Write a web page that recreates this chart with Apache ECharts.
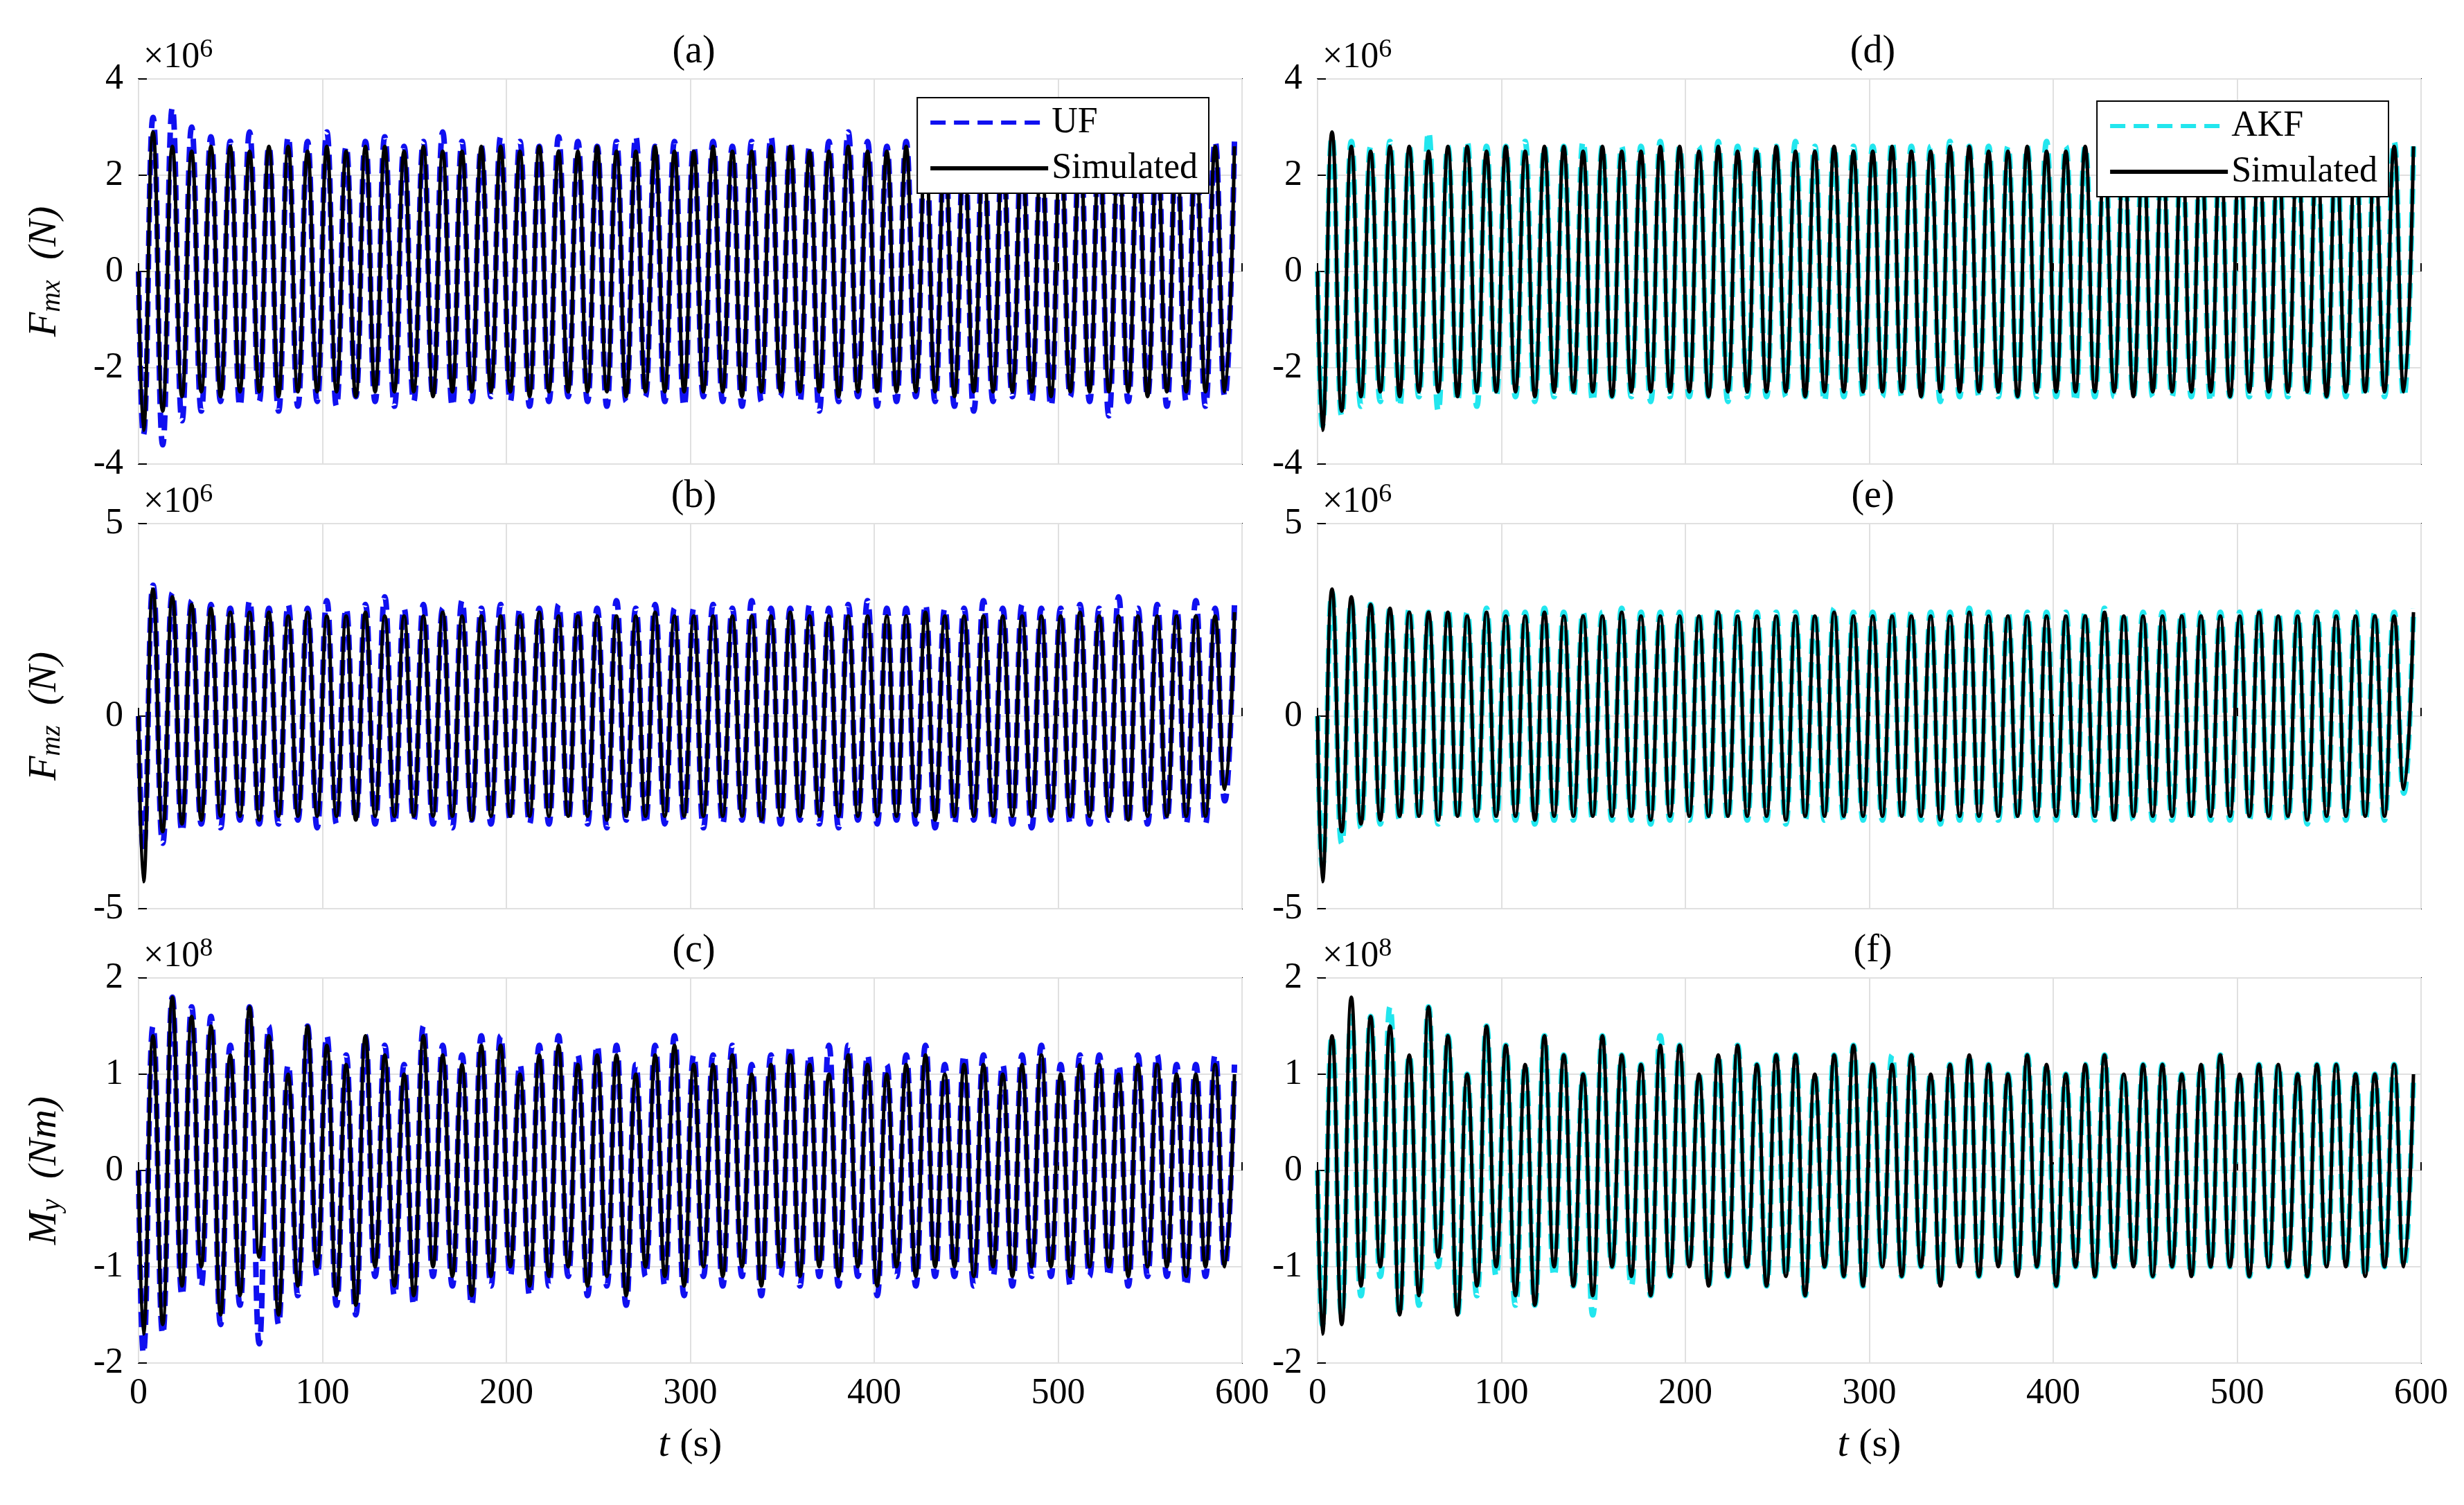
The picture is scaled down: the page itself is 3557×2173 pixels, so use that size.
<!DOCTYPE html>
<html><head><meta charset="utf-8">
<script src="https://cdn.jsdelivr.net/npm/echarts@6/dist/echarts.min.js"></script>
<style>html,body{margin:0;background:#fff}#c{width:3557px;height:2173px}</style>
</head><body><div id="c"></div>
<script>
// extrema: troughs and peaks per cycle (half period steps)
var halfPeriod = 5.25;
var fmxSimP = [2.9,2.6,2.5,2.6,2.6,2.5,2.6,2.6,2.5,2.6,2.5,2.6,2.6,2.5,2.6,2.5,2.5,2.6,2.6,2.5,2.6,2.5,2.5,2.6,2.5,2.5,2.6,2.5,2.5,2.6,2.5,2.5,2.6,2.6,2.5,2.5,2.6,2.5,2.5,2.6,2.5,2.6,2.5,2.5,2.6,2.5,2.5,2.6,2.5,2.5,2.6,2.5,2.5,2.6,2.5,2.6,2.6];
var fmxSimT = [-3.3,-2.9,-2.6,-2.5,-2.6,-2.5,-2.5,-2.6,-2.5,-2.5,-2.5,-2.6,-2.5,-2.5,-2.5,-2.6,-2.5,-2.5,-2.5,-2.5,-2.6,-2.5,-2.5,-2.5,-2.5,-2.6,-2.5,-2.5,-2.5,-2.5,-2.5,-2.6,-2.5,-2.5,-2.5,-2.5,-2.6,-2.5,-2.5,-2.5,-2.5,-2.5,-2.6,-2.5,-2.5,-2.5,-2.5,-2.6,-2.5,-2.5,-2.5,-2.5,-2.6,-2.5,-2.5,-2.5,-2.5];
var fmxUfP = [3.2,3.4,3.0,2.8,2.7,2.9,2.6,2.8,2.7,2.9,2.6,2.7,2.8,2.6,2.7,2.9,2.7,2.6,2.8,2.7,2.6,2.8,2.7,2.6,2.7,2.8,2.6,2.7,2.6,2.7,2.6,2.7,2.8,2.7,2.6,2.7,2.9,2.7,2.6,2.7,2.8,2.6,2.7,2.9,2.6,2.7,2.6,2.7,2.8,2.6,2.7,2.6,2.8,2.7,2.6,2.7,2.7];
var fmxUfT = [-3.4,-3.6,-3.1,-2.9,-2.7,-2.8,-2.7,-2.9,-2.8,-2.7,-2.8,-2.6,-2.7,-2.8,-2.7,-2.6,-2.8,-2.7,-2.6,-2.7,-2.8,-2.7,-2.6,-2.7,-2.8,-2.7,-2.6,-2.7,-2.8,-2.6,-2.7,-2.8,-2.7,-2.6,-2.7,-2.9,-2.7,-2.6,-2.8,-2.7,-2.6,-2.7,-2.8,-2.9,-2.7,-2.6,-2.7,-2.8,-2.6,-2.7,-3.0,-2.7,-2.6,-2.8,-2.7,-2.8,-2.6];
var fmxAkfP = [2.8,2.7,2.6,2.7,2.6,2.9,2.6,2.7,2.6,2.6,2.7,2.6,2.6,2.7,2.6,2.6,2.6,2.7,2.6,2.6,2.7,2.6,2.6,2.6,2.7,2.6,2.6,2.6,2.6,2.7,2.6,2.6,2.7,2.6,2.6,2.6,2.6,2.7,2.6,2.6,2.6,2.6,2.7,2.6,2.6,2.6,2.6,2.6,2.7,2.6,2.6,2.6,2.6,2.6,2.6,2.7,2.6];
var fmxAkfT = [-3.2,-3.0,-2.8,-2.7,-2.8,-2.6,-2.9,-2.7,-2.8,-2.6,-2.6,-2.7,-2.6,-2.6,-2.7,-2.6,-2.6,-2.7,-2.6,-2.6,-2.6,-2.7,-2.6,-2.6,-2.6,-2.6,-2.7,-2.6,-2.6,-2.6,-2.6,-2.6,-2.7,-2.6,-2.6,-2.6,-2.6,-2.6,-2.6,-2.7,-2.6,-2.6,-2.6,-2.6,-2.6,-2.6,-2.7,-2.6,-2.6,-2.6,-2.6,-2.6,-2.6,-2.6,-2.6,-2.6,-2.6];

var fmzSimP = [3.3,3.1,2.9,2.8,2.7,2.7,2.7,2.6,2.7,2.6,2.6,2.7,2.6,2.6,2.6,2.7,2.6,2.6,2.6,2.6,2.7,2.6,2.6,2.6,2.6,2.6,2.7,2.6,2.6,2.6,2.6,2.6,2.6,2.7,2.6,2.6,2.6,2.6,2.6,2.6,2.7,2.6,2.6,2.6,2.6,2.6,2.6,2.6,2.7,2.6,2.6,2.6,2.6,2.6,2.6,2.6,2.7];
var fmzSimT = [-4.3,-3.0,-2.8,-2.7,-2.6,-2.6,-2.7,-2.6,-2.6,-2.6,-2.6,-2.7,-2.6,-2.6,-2.6,-2.6,-2.6,-2.7,-2.6,-2.6,-2.6,-2.6,-2.6,-2.6,-2.7,-2.6,-2.6,-2.6,-2.6,-2.6,-2.6,-2.6,-2.7,-2.6,-2.6,-2.6,-2.6,-2.6,-2.6,-2.6,-2.6,-2.7,-2.6,-2.6,-2.6,-2.6,-2.6,-2.6,-2.6,-2.6,-2.6,-2.7,-2.6,-2.6,-2.6,-2.6,-1.9];
var fmzUfP = [3.4,3.2,3.0,2.9,2.8,3.0,2.8,2.9,2.8,3.0,2.8,2.9,3.1,2.8,2.9,2.8,3.0,2.8,2.9,2.8,2.8,2.9,2.8,2.8,3.0,2.8,2.9,2.8,2.8,2.9,2.8,3.0,2.8,2.8,2.9,2.8,2.9,3.0,2.8,2.8,2.9,2.8,2.8,3.0,2.8,2.9,2.8,2.8,2.9,2.8,3.1,2.8,2.9,2.8,3.0,2.8,2.9];
var fmzUfT = [-3.5,-3.3,-3.0,-2.8,-2.9,-2.7,-2.8,-2.8,-2.7,-2.9,-2.8,-2.7,-2.8,-2.8,-2.7,-2.8,-2.9,-2.7,-2.8,-2.7,-2.8,-2.8,-2.7,-2.8,-2.9,-2.7,-2.8,-2.8,-2.7,-2.9,-2.8,-2.7,-2.8,-2.8,-2.7,-2.8,-2.9,-2.7,-2.8,-2.7,-2.8,-2.9,-2.8,-2.7,-2.8,-2.8,-2.9,-2.7,-2.8,-2.8,-2.7,-2.8,-2.8,-2.7,-2.8,-2.8,-2.2];
var fmzAkfP = [3.2,3.0,2.9,2.8,2.8,2.7,2.8,2.7,2.8,2.7,2.7,2.8,2.7,2.7,2.7,2.8,2.7,2.7,2.7,2.7,2.8,2.7,2.7,2.7,2.7,2.7,2.8,2.7,2.7,2.7,2.7,2.7,2.7,2.8,2.7,2.7,2.7,2.7,2.7,2.7,2.8,2.7,2.7,2.7,2.7,2.7,2.7,2.7,2.8,2.7,2.7,2.7,2.7,2.7,2.7,2.7,2.8];
var fmzAkfT = [-3.9,-3.3,-2.9,-2.8,-2.7,-2.7,-2.8,-2.7,-2.7,-2.7,-2.7,-2.8,-2.7,-2.7,-2.7,-2.7,-2.7,-2.8,-2.7,-2.7,-2.7,-2.7,-2.7,-2.7,-2.8,-2.7,-2.7,-2.7,-2.7,-2.7,-2.7,-2.7,-2.8,-2.7,-2.7,-2.7,-2.7,-2.7,-2.7,-2.7,-2.7,-2.8,-2.7,-2.7,-2.7,-2.7,-2.7,-2.7,-2.7,-2.7,-2.7,-2.8,-2.7,-2.7,-2.7,-2.7,-2.0];

var mySimP = [1.4,1.8,1.6,1.5,1.2,1.7,1.4,1.0,1.5,1.3,1.1,1.4,1.2,1.0,1.4,1.2,1.1,1.3,1.3,1.0,1.2,1.3,1.1,1.2,1.2,1.0,1.2,1.3,1.1,1.1,1.2,1.0,1.1,1.2,1.1,1.0,1.2,1.1,1.0,1.1,1.2,1.0,1.1,1.1,1.0,1.1,1.2,1.0,1.1,1.1,1.0,1.1,1.1,1.0,1.0,1.1,1.0];
var mySimT = [-1.7,-1.6,-1.2,-1.0,-1.5,-1.3,-0.9,-1.5,-1.2,-1.0,-1.3,-1.4,-1.0,-1.2,-1.3,-1.0,-1.1,-1.3,-1.1,-1.0,-1.2,-1.1,-1.0,-1.2,-1.1,-1.3,-1.0,-1.1,-1.2,-1.0,-1.1,-1.0,-1.2,-1.0,-1.1,-1.0,-1.1,-1.0,-1.2,-1.0,-1.1,-1.0,-1.0,-1.1,-1.0,-1.1,-1.0,-1.0,-1.1,-1.0,-1.0,-1.1,-1.0,-1.0,-1.1,-1.0,-1.0];
var myUfP = [1.5,1.8,1.7,1.6,1.3,1.7,1.5,1.1,1.5,1.4,1.2,1.4,1.3,1.1,1.5,1.3,1.2,1.4,1.4,1.1,1.3,1.4,1.2,1.3,1.3,1.1,1.3,1.4,1.2,1.2,1.3,1.1,1.2,1.3,1.2,1.3,1.3,1.2,1.1,1.2,1.3,1.1,1.2,1.2,1.1,1.2,1.3,1.1,1.2,1.2,1.1,1.2,1.2,1.1,1.1,1.2,1.1];
var myUfT = [-1.9,-1.7,-1.3,-1.2,-1.6,-1.4,-1.8,-1.6,-1.3,-1.1,-1.4,-1.5,-1.1,-1.3,-1.4,-1.1,-1.2,-1.4,-1.2,-1.1,-1.3,-1.2,-1.1,-1.3,-1.2,-1.4,-1.1,-1.2,-1.3,-1.1,-1.2,-1.1,-1.3,-1.1,-1.2,-1.1,-1.2,-1.1,-1.3,-1.1,-1.2,-1.1,-1.1,-1.2,-1.1,-1.2,-1.1,-1.1,-1.2,-1.1,-1.1,-1.2,-1.1,-1.1,-1.2,-1.1,-1.0];
var myAkfP = [1.4,1.6,1.6,1.7,1.2,1.7,1.4,1.0,1.5,1.3,1.1,1.4,1.2,1.0,1.4,1.2,1.1,1.4,1.3,1.0,1.2,1.3,1.1,1.2,1.2,1.0,1.2,1.3,1.1,1.2,1.2,1.0,1.1,1.2,1.1,1.0,1.2,1.1,1.0,1.1,1.2,1.0,1.1,1.1,1.0,1.1,1.2,1.0,1.1,1.1,1.0,1.1,1.1,1.0,1.0,1.1,1.0];
var myAkfT = [-1.6,-1.5,-1.3,-1.1,-1.5,-1.4,-1.0,-1.5,-1.3,-1.1,-1.4,-1.4,-1.1,-1.2,-1.5,-1.0,-1.2,-1.3,-1.1,-1.0,-1.2,-1.1,-1.0,-1.2,-1.1,-1.3,-1.0,-1.1,-1.2,-1.0,-1.1,-1.0,-1.2,-1.0,-1.1,-1.0,-1.1,-1.0,-1.2,-1.0,-1.1,-1.0,-1.0,-1.1,-1.0,-1.1,-1.0,-1.0,-1.1,-1.0,-1.0,-1.1,-1.0,-1.0,-1.1,-1.0,-1.0];

var xTicks = [0,100,200,300,400,500,600];
var panelLabels = ['(a)','(b)','(c)','(d)','(e)','(f)'];

function zigzag(troughs, peaks, scale) {
  var pts = [[0, 0]];
  for (var i = 0; i < troughs.length; i++) {
    pts.push([(2 * i + 0.5) * halfPeriod, troughs[i] * scale]);
    if (i < peaks.length) pts.push([(2 * i + 1.5) * halfPeriod, peaks[i] * scale]);
  }
  return pts.filter(function (p) { return p[0] <= 600; });
}

var chart = echarts.init(document.getElementById('c'));
var font = 'Liberation Serif';
var lefts = [200, 1902], tops = [114, 756, 1412], W = 1593, H = 556;
var rows = [
  {min: -4e6, max: 4e6, interval: 2e6, div: 1e6, exp: '6', sym: 'mx', unit: 'N',
   sim: zigzag(fmxSimT, fmxSimP, 1e6), est: [zigzag(fmxUfT, fmxUfP, 1e6), zigzag(fmxAkfT, fmxAkfP, 1e6)]},
  {min: -5e6, max: 5e6, interval: 5e6, div: 1e6, exp: '6', sym: 'mz', unit: 'N',
   sim: zigzag(fmzSimT, fmzSimP, 1e6), est: [zigzag(fmzUfT, fmzUfP, 1e6), zigzag(fmzAkfT, fmzAkfP, 1e6)]},
  {min: -2e8, max: 2e8, interval: 1e8, div: 1e8, exp: '8', sym: 'y', unit: 'Nm',
   sim: zigzag(mySimT, mySimP, 1e8), est: [zigzag(myUfT, myUfP, 1e8), zigzag(myAkfT, myAkfP, 1e8)]}
];
var estNames = ['UF', 'AKF'], estColors = ['#1010f0', '#22e6ee'];

var grids = [], xAxes = [], yAxes = [], series = [], titles = [], legends = [];
for (var c = 0; c < 2; c++) {
  for (var r = 0; r < 3; r++) {
    var k = grids.length, row = rows[r];
    grids.push({left: lefts[c], top: tops[r], width: W, height: H, show: true, borderColor: '#000', borderWidth: 2});
    xAxes.push({type: 'value', gridIndex: k, min: 0, max: 600, interval: 100,
      axisLine: {show: false}, axisTick: {show: true, inside: true, length: 12, lineStyle: {color: '#000', width: 2}},
      splitLine: {show: true, lineStyle: {color: '#e0e0e0', width: 2}},
      axisLabel: {show: r === 2, fontFamily: font, fontSize: 52, color: '#000', margin: 18},
      name: r === 2 ? '{i|t} (s)' : '', nameLocation: 'middle', nameGap: 90,
      nameTextStyle: {fontFamily: font, fontSize: 58, color: '#000', rich: {i: {fontStyle: 'italic', fontFamily: font, fontSize: 58}}}});
    var div = row.div;
    yAxes.push({type: 'value', gridIndex: k, min: row.min, max: row.max, interval: row.interval,
      axisLine: {show: false}, axisTick: {show: true, inside: true, length: 12, lineStyle: {color: '#000', width: 2}},
      splitLine: {show: true, lineStyle: {color: '#e0e0e0', width: 2}},
      axisLabel: {fontFamily: font, fontSize: 52, color: '#000', margin: 22, formatter: (function (d) { return function (v) { return String(Math.round(v / d)); }; })(div)},
      name: c === 0 ? '{i|F}{s|' + row.sym + '}  {i|(' + row.unit + ')}' : '', nameLocation: 'middle', nameGap: 105, nameRotate: 90,
      nameTextStyle: {fontFamily: font, fontSize: 58, color: '#000', rich: {
        i: {fontStyle: 'italic', fontFamily: font, fontSize: 58},
        s: {fontStyle: 'italic', fontFamily: font, fontSize: 40, verticalAlign: 'bottom', padding: [20, 0, 0, 0]}}}});
    if (c === 0 && r === 2) yAxes[k].name = '{i|M}{s|y}  {i|(Nm)}';
    series.push({name: estNames[c], type: 'line', xAxisIndex: k, yAxisIndex: k, data: row.est[c], symbol: 'none',
      smooth: 0.5, animation: false, lineStyle: {color: estColors[c], width: 8, type: [22, 12]}, itemStyle: {color: estColors[c]}});
    series.push({name: 'Simulated', type: 'line', xAxisIndex: k, yAxisIndex: k, data: row.sim, symbol: 'none',
      smooth: 0.5, animation: false, lineStyle: {color: '#000', width: 5}, itemStyle: {color: '#000'}});
    titles.push({text: panelLabels[c * 3 + r], left: lefts[c] + W / 2, top: tops[r] - 72, textAlign: 'center',
      textStyle: {fontFamily: font, fontSize: 56, fontWeight: 'normal', color: '#000'}});
    titles.push({text: '×10{e|' + row.exp + '}', left: lefts[c] + 2, top: tops[r] - 66,
      textStyle: {fontFamily: font, fontSize: 52, fontWeight: 'normal', color: '#000',
        rich: {e: {fontFamily: font, fontSize: 38, verticalAlign: 'top', padding: [0, 0, 22, 0]}}}});
  }
  legends.push({data: [estNames[c], 'Simulated'], orient: 'vertical', right: c === 0 ? 3557 - 1745 : 3557 - 3448,
    top: c === 0 ? 141 : 146, backgroundColor: '#fff', borderColor: '#000', borderWidth: 2, padding: [10, 16, 10, 16],
    itemWidth: 170, itemHeight: 24, itemGap: 14, lineStyle: {width: 6}, itemStyle: {opacity: 0},
    textStyle: {fontFamily: font, fontSize: 52, color: '#000'}});
}

chart.setOption({
  backgroundColor: '#fff',
  animation: false,
  title: titles,
  legend: legends,
  grid: grids,
  xAxis: xAxes,
  yAxis: yAxes,
  series: series
});
</script>
</body></html>
